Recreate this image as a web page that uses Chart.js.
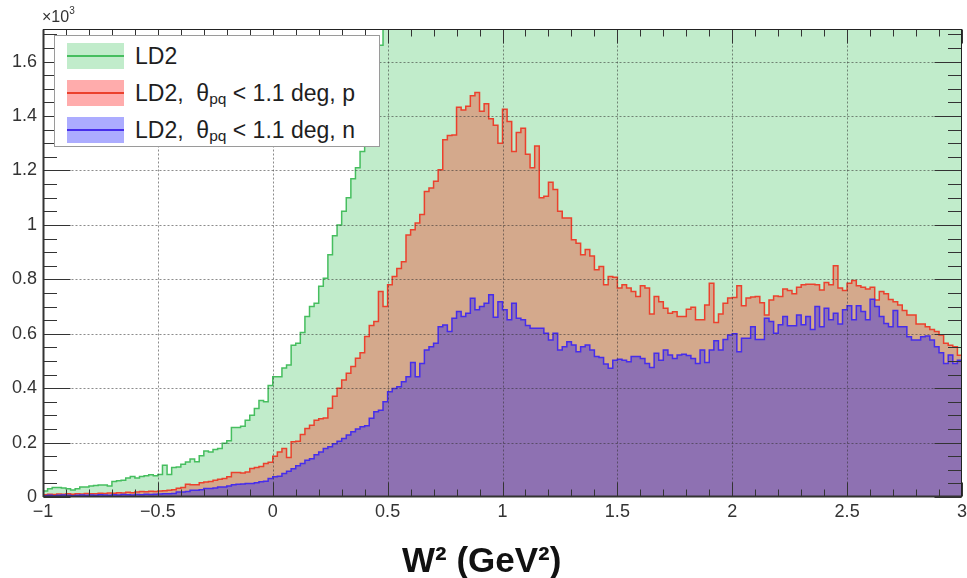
<!DOCTYPE html>
<html>
<head>
<meta charset="utf-8">
<script src="https://cdn.jsdelivr.net/npm/chart.js@4.4.1/dist/chart.umd.min.js"></script>
<style>
  html, body { margin: 0; padding: 0; background: #fff; }
  #wrap { position: relative; width: 967px; height: 578px; font-family: "Liberation Sans", Arial, Helvetica, sans-serif; color: #222; }
  #plot { position: absolute; left: 0; top: 0; }
  #scale-note { position: absolute; left: 42px; top: 7px; font-size: 16px; color: #333; white-space: nowrap; }
  #scale-note sup { font-size: 10px; position: relative; top: -2px; }
  #legend { position: absolute; left: 54px; top: 35px; width: 326px; height: 112px; background: #fff; border: 1px solid #9a9a9a; box-sizing: border-box; }
  .entry { position: absolute; left: 0; width: 100%; height: 26px; }
  .swatch { position: absolute; left: 12px; top: 0; width: 57px; height: 26px; }
  .swatch i { position: absolute; left: 0; right: 0; top: 12px; height: 2px; }
  .entry span.txt { position: absolute; left: 80px; top: 0; line-height: 26px; font-size: 23px; color: #1e1e1e; white-space: nowrap; }
  .entry sub { font-size: 15.5px; position: relative; top: 3px; vertical-align: baseline; }
  #xtitle { position: absolute; left: 402px; top: 542px; font-size: 35px; line-height: 35px; font-weight: bold; color: #111; white-space: nowrap; }
</style>
</head>
<body>
<div id="wrap">
  <canvas id="plot" width="967" height="578"></canvas>
  <div id="scale-note">×10<sup>3</sup></div>
  <div id="legend">
    <div class="entry" style="top:7px"><div class="swatch" style="background:rgb(193,236,203)"><i style="background:rgb(70,190,95)"></i></div><span class="txt">LD2</span></div>
    <div class="entry" style="top:44px"><div class="swatch" style="background:rgb(255,172,172)"><i style="background:rgb(235,65,45)"></i></div><span class="txt">LD2,&nbsp; θ<sub>pq</sub> &lt; 1.1 deg, p</span></div>
    <div class="entry" style="top:81px"><div class="swatch" style="background:rgb(172,172,255)"><i style="background:rgb(70,45,235)"></i></div><span class="txt">LD2,&nbsp; θ<sub>pq</sub> &lt; 1.1 deg, n</span></div>
  </div>
  <div id="xtitle">W² (GeV²)</div>
</div>
<script>
// Histogram binning: 200 bins of 0.02 GeV^2 from -1 to 3
const W2_MIN = -1;
const W2_MAX = 3;
const BIN_WIDTH = 0.02;

// Counts per bin (x10^3), all LD2 events
const ld2Counts = [
  0.022,0.030,0.035,0.035,0.033,0.030,0.026,0.030,0.037,0.037,
  0.040,0.042,0.044,0.044,0.040,0.057,0.060,0.062,0.070,0.075,
  0.070,0.075,0.078,0.082,0.078,0.083,0.117,0.083,0.108,0.110,
  0.120,0.129,0.140,0.130,0.152,0.169,0.165,0.175,0.178,0.198,
  0.207,0.255,0.255,0.260,0.282,0.300,0.325,0.355,0.350,0.410,
  0.442,0.442,0.474,0.485,0.558,0.565,0.605,0.663,0.700,0.712,
  0.775,0.804,0.890,0.960,1.000,1.050,1.100,1.170,1.210,1.270,
  1.330,1.420,1.530,1.660,1.800,1.930,2.050,2.180,2.300,2.440,
  2.580,2.700,2.830,2.950,3.060,3.160,3.260,3.340,3.410,3.470,
  3.520,3.550,3.570,3.580,3.570,3.550,3.510,3.460,3.400,3.330,
  3.250,3.170,3.080,2.990,2.900,2.810,2.730,2.650,2.580,2.510,
  2.450,2.400,2.350,2.310,2.270,2.240,2.210,2.190,2.170,2.160,
  2.150,2.140,2.140,2.130,2.130,2.130,2.140,2.140,2.150,2.160,
  2.170,2.180,2.190,2.210,2.220,2.240,2.250,2.270,2.290,2.300,
  2.320,2.340,2.360,2.370,2.390,2.410,2.420,2.440,2.450,2.470,
  2.480,2.500,2.510,2.520,2.540,2.550,2.560,2.570,2.580,2.590,
  2.600,2.610,2.620,2.620,2.630,2.630,2.640,2.640,2.640,2.640,
  2.640,2.630,2.630,2.620,2.610,2.600,2.590,2.570,2.550,2.530,
  2.510,2.480,2.450,2.420,2.390,2.350,2.310,2.270,2.230,2.180,
  2.130,2.080,2.030,1.980,1.930,1.880,1.840,1.800,1.770,1.750
];

// theta_pq < 1.1 deg, proton
const protonCounts = [
  0.008,0.010,0.009,0.011,0.010,0.012,0.010,0.012,0.011,0.013,
  0.012,0.012,0.014,0.013,0.015,0.014,0.016,0.015,0.017,0.016,
  0.018,0.020,0.019,0.021,0.020,0.022,0.023,0.025,0.027,0.032,
  0.035,0.047,0.045,0.045,0.052,0.055,0.057,0.062,0.065,0.068,
  0.074,0.090,0.090,0.088,0.092,0.105,0.108,0.112,0.123,0.128,
  0.150,0.165,0.178,0.145,0.203,0.205,0.230,0.252,0.264,0.282,
  0.288,0.290,0.326,0.370,0.400,0.430,0.455,0.480,0.510,0.530,
  0.590,0.630,0.645,0.755,0.700,0.780,0.810,0.840,0.865,0.963,
  0.982,1.007,1.038,1.123,1.136,1.160,1.203,1.313,1.329,1.330,
  1.432,1.422,1.436,1.475,1.487,1.418,1.445,1.390,1.366,1.300,
  1.425,1.380,1.270,1.340,1.355,1.260,1.210,1.290,1.100,1.105,
  1.157,1.130,1.050,1.025,1.025,0.945,0.933,0.890,0.910,0.886,
  0.835,0.847,0.780,0.810,0.808,0.768,0.780,0.768,0.755,0.737,
  0.776,0.768,0.673,0.737,0.718,0.694,0.675,0.681,0.663,0.663,
  0.690,0.697,0.651,0.651,0.706,0.786,0.641,0.673,0.712,0.731,
  0.733,0.776,0.703,0.731,0.735,0.737,0.714,0.669,0.724,0.739,
  0.737,0.764,0.759,0.747,0.771,0.780,0.782,0.782,0.780,0.761,
  0.788,0.780,0.850,0.768,0.759,0.786,0.796,0.776,0.771,0.764,
  0.771,0.724,0.755,0.747,0.726,0.718,0.706,0.685,0.669,0.669,
  0.636,0.636,0.626,0.616,0.608,0.595,0.565,0.558,0.552,0.521
];

// theta_pq < 1.1 deg, neutron
const neutronCounts = [
  0.005,0.006,0.005,0.006,0.007,0.006,0.005,0.006,0.007,0.006,
  0.007,0.006,0.008,0.007,0.006,0.008,0.007,0.009,0.008,0.007,
  0.009,0.008,0.010,0.009,0.010,0.011,0.012,0.012,0.013,0.018,
  0.018,0.020,0.025,0.025,0.027,0.031,0.031,0.033,0.037,0.037,
  0.040,0.045,0.047,0.048,0.050,0.050,0.052,0.056,0.058,0.068,
  0.074,0.076,0.086,0.095,0.104,0.115,0.123,0.135,0.141,0.155,
  0.165,0.178,0.185,0.196,0.205,0.215,0.228,0.240,0.250,0.258,
  0.262,0.289,0.313,0.319,0.350,0.387,0.399,0.405,0.424,0.442,
  0.494,0.442,0.491,0.540,0.552,0.565,0.626,0.632,0.608,0.657,
  0.682,0.663,0.675,0.730,0.688,0.700,0.712,0.743,0.661,0.718,
  0.688,0.651,0.712,0.657,0.651,0.630,0.620,0.620,0.620,0.602,
  0.577,0.602,0.540,0.552,0.571,0.559,0.534,0.552,0.559,0.540,
  0.516,0.513,0.489,0.473,0.503,0.506,0.503,0.497,0.516,0.516,
  0.509,0.491,0.476,0.528,0.503,0.540,0.522,0.509,0.522,0.525,
  0.520,0.509,0.491,0.540,0.494,0.540,0.574,0.540,0.579,0.595,
  0.600,0.534,0.583,0.583,0.626,0.579,0.579,0.657,0.645,0.602,
  0.633,0.663,0.629,0.629,0.669,0.633,0.663,0.616,0.700,0.626,
  0.694,0.651,0.675,0.636,0.688,0.703,0.651,0.703,0.682,0.651,
  0.727,0.700,0.663,0.638,0.626,0.685,0.626,0.626,0.589,0.577,
  0.577,0.589,0.592,0.577,0.552,0.530,0.491,0.522,0.491,0.503
];

// Axis ticks
const xTickValues = [-1, -0.5, 0, 0.5, 1, 1.5, 2, 2.5, 3];
const xTickLabels = ['\u22121', '\u22120.5', '0', '0.5', '1', '1.5', '2', '2.5', '3'];
const yTickValues = [0, 0.2, 0.4, 0.6, 0.8, 1, 1.2, 1.4, 1.6];
const yTickLabels = ['0', '0.2', '0.4', '0.6', '0.8', '1', '1.2', '1.4', '1.6'];
const Y_MAX = 1.72;

// Turn bin contents into step points at the lower bin edges, closed at the upper edge
function toSteps(counts) {
  const pts = counts.map((c, i) => ({ x: W2_MIN + i * BIN_WIDTH, y: c }));
  pts.push({ x: W2_MAX, y: counts[counts.length - 1] });
  return pts;
}

const FONT = '"Liberation Sans", Arial, Helvetica, sans-serif';

// Frame with inward ticks on all four sides and dotted grid, drawn over the filled histograms
const frameAxes = {
  id: 'frameAxes',
  afterDatasetsDraw(chart) {
    const { ctx, chartArea: a, scales: { x, y } } = chart;
    const L = Math.round(a.left) + 0.5, R = Math.round(a.right) - 0.5;
    const T = Math.round(a.top) + 0.5, B = Math.round(a.bottom) - 0.5;
    ctx.save();
    ctx.lineWidth = 1;

    // dotted grid
    ctx.strokeStyle = 'rgba(45,45,45,0.55)';
    ctx.setLineDash([2, 2]);
    ctx.beginPath();
    xTickValues.forEach(v => {
      if (v <= W2_MIN || v >= W2_MAX) return;
      const px = Math.round(x.getPixelForValue(v)) + 0.5;
      ctx.moveTo(px, T); ctx.lineTo(px, B);
    });
    yTickValues.forEach(v => {
      if (v <= 0) return;
      const py = Math.round(y.getPixelForValue(v)) + 0.5;
      ctx.moveTo(L, py); ctx.lineTo(R, py);
    });
    ctx.stroke();
    ctx.setLineDash([]);

    // ticks
    ctx.strokeStyle = '#333';
    ctx.beginPath();
    for (let k = 0; k <= 40; k++) {
      const v = W2_MIN + k * 0.1;
      const px = Math.round(x.getPixelForValue(v)) + 0.5;
      const len = (k % 5 === 0) ? 14 : 7;
      ctx.moveTo(px, B); ctx.lineTo(px, B - len);
      ctx.moveTo(px, T); ctx.lineTo(px, T + len);
    }
    for (let k = 0; k * 0.05 <= Y_MAX + 1e-9; k++) {
      const v = k * 0.05;
      const py = Math.round(y.getPixelForValue(v)) + 0.5;
      const len = (k % 4 === 0) ? 27 : 13.5;
      ctx.moveTo(L, py); ctx.lineTo(L + len, py);
      ctx.moveTo(R, py); ctx.lineTo(R - len, py);
    }
    ctx.stroke();

    // frame
    ctx.strokeStyle = '#222';
    ctx.strokeRect(L, T, R - L, B - T);
    ctx.lineWidth = 2;
    ctx.strokeStyle = '#333';
    ctx.beginPath();
    ctx.moveTo(L, T); ctx.lineTo(L, B + 0.5);
    ctx.moveTo(L, B); ctx.lineTo(R, B);
    ctx.stroke();
    ctx.restore();
  }
};

const commonLine = { stepped: true, fill: 'origin', borderWidth: 1.5, pointRadius: 0, tension: 0 };

new Chart(document.getElementById('plot'), {
  type: 'line',
  data: {
    datasets: [
      Object.assign({ label: 'LD2', data: toSteps(ld2Counts), borderColor: 'rgb(70,190,95)', backgroundColor: 'rgb(193,236,203)', order: 3 }, commonLine),
      Object.assign({ label: 'LD2, θpq < 1.1 deg, p', data: toSteps(protonCounts), borderColor: 'rgb(235,65,45)', backgroundColor: 'rgba(255,20,0,0.31)', order: 2 }, commonLine),
      Object.assign({ label: 'LD2, θpq < 1.1 deg, n', data: toSteps(neutronCounts), borderColor: 'rgb(70,45,235)', backgroundColor: 'rgba(0,0,255,0.33)', order: 1 }, commonLine)
    ]
  },
  options: {
    responsive: false,
    animation: false,
    events: [],
    layout: { padding: { left: 0, right: 5, top: 29, bottom: 0 } },
    plugins: { legend: { display: false }, tooltip: { enabled: false } },
    scales: {
      x: {
        type: 'linear', min: W2_MIN, max: W2_MAX,
        afterFit(s) { s.height = 81; s.paddingLeft = 0; s.paddingRight = 0; },
        afterBuildTicks(s) { s.ticks = xTickValues.map(v => ({ value: v })); },
        ticks: { callback: (v, i) => xTickLabels[i], font: { size: 18, family: FONT }, color: '#333', padding: 4, maxRotation: 0, autoSkip: false },
        grid: { display: false, drawTicks: false },
        border: { display: false }
      },
      y: {
        type: 'linear', min: 0, max: Y_MAX,
        afterFit(s) { s.width = 43; s.paddingTop = 0; s.paddingBottom = 0; },
        afterBuildTicks(s) { s.ticks = yTickValues.map(v => ({ value: v })); },
        ticks: { callback: (v, i) => yTickLabels[i], font: { size: 18, family: FONT }, color: '#333', padding: 6, autoSkip: false },
        grid: { display: false, drawTicks: false },
        border: { display: false }
      }
    }
  },
  plugins: [frameAxes]
});
</script>
</body>
</html>
